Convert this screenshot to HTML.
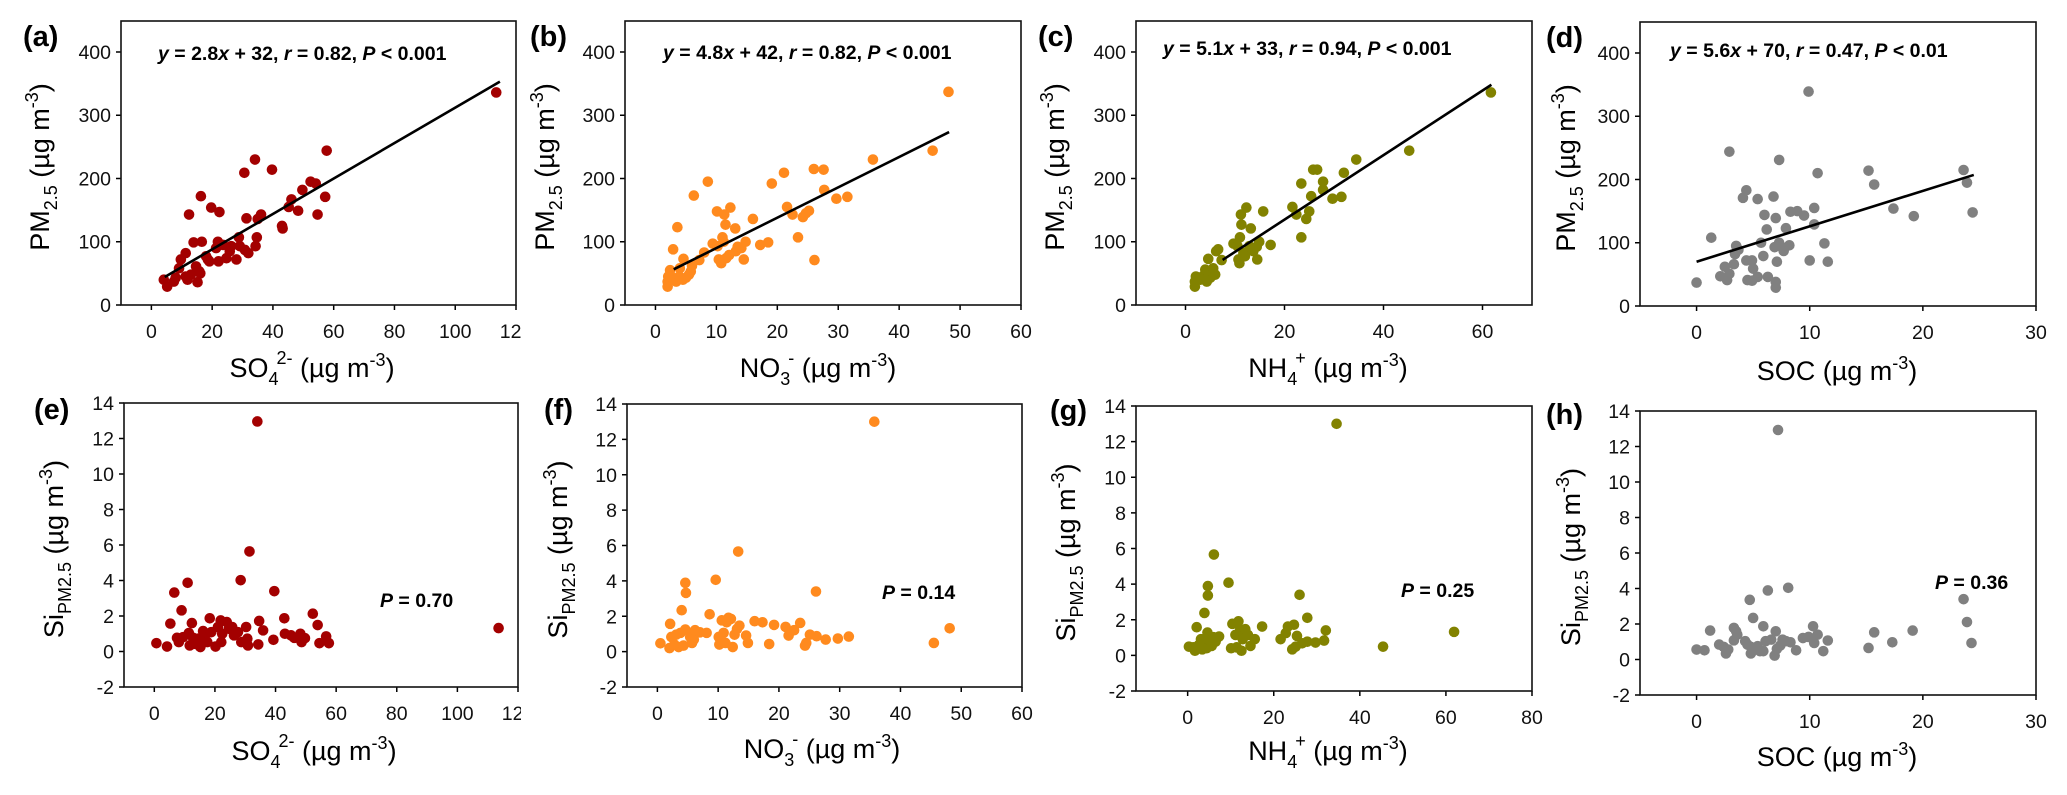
<!DOCTYPE html>
<html><head><meta charset="utf-8">
<style>
html,body{margin:0;padding:0;background:#fff;}
svg{display:block;font-family:"Liberation Sans",Arial,sans-serif;}
</style></head>
<body>
<svg id="fig" width="2067" height="795" viewBox="0 0 2067 795" xmlns="http://www.w3.org/2000/svg">
<defs><clipPath id="clipA"><rect x="0" y="0" width="521" height="795"/></clipPath></defs>
</svg>
<script>
// ---------- data ----------
const aX=[4.1,5.2,7.4,8,9.1,9.7,11.3,11.3,11.9,12.4,13,13.9,14.7,15.2,15.8,16.1,16.3,16.6,18,18.6,19.1,19.7,21.3,21.9,22.1,22.4,23.6,24.7,25.8,26.3,28,28.8,29.1,30.6,30.8,31.3,31.9,34.1,34.3,34.7,35,36.1,39.7,43,43.2,45.2,46.1,48.3,49.7,52.4,54.1,54.7,57.2,57.7,113.5];
const aY=[40,29,37,43,58,72,82,45,40,143,48,99,61,36,53,50,172,100,77,72,69,154,90,100,69,147,95,74,85,93,72,107,93,209,87,137,82,230,93,107,136,143,214,125,121,155,167,149,182,195,192,143,171,244,336];
const eX=[0.7,4.2,5.3,6.6,7.5,8.1,9,9.5,11,11.4,11.7,12.4,12.8,13.6,14.4,15.2,15.8,16.1,16.6,17.5,18.3,18.8,20.2,21,21.9,22.1,22.4,23.9,24.6,25.7,26.3,27.6,28.5,28.7,30.3,30.7,30.9,31.4,34,34.3,34.6,35.9,39.3,39.6,42.9,43.1,45.1,46.2,48.2,48.6,49.7,52.3,53.9,54.5,56.7,57.6,113.6];
const eY=[0.47,0.28,1.57,3.32,0.77,0.53,2.32,0.81,3.87,1.04,0.34,1.6,0.77,0.43,0.72,0.25,0.47,1.15,0.77,0.53,1.87,1.09,0.28,1.38,1.75,0.53,1.0,1.66,1.28,1.38,0.91,1.09,4.02,0.53,1.38,0.72,0.34,5.64,12.96,0.4,1.72,1.19,0.66,3.4,1.87,1.0,0.91,0.77,1.0,0.53,0.75,2.13,1.49,0.47,0.85,0.47,1.32];
const bX=[2,2,2.1,2.4,2.8,2.9,3.4,3.6,3.9,4,4.5,4.6,5,5.5,5.8,6,6.3,7.2,8,8.6,9.4,10.1,10.2,10.4,10.8,11,11.2,11.3,11.5,11.6,12.1,12.3,13.1,13.2,13.5,14.1,14.5,14.8,16,17.2,18.5,19.1,21.1,21.6,22.5,23.4,24.2,24.7,25.2,26,26.1,27.6,27.7,29.7,31.5,35.7,45.5,48.1];
const bY=[29,37,45,55,43,88,37,123,45,58,40,73,43,48,53,62,173,71,83,195,97,148,93,72,66,107,100,143,127,74,79,154,121,85,92,90,72,100,136,95,99,192,209,155,143,107,139,145,149,215,71,214,182,168,171,230,244,337];
const fX=[0.5,2,2.1,2.3,2.8,3.1,3.5,3.8,4,4.3,4.6,4.6,4.7,5.4,5.7,6,6.2,7,8.1,8.6,9.6,10.1,10.2,10.6,10.9,11.2,11.4,11.7,12.1,12.4,12.7,13.1,13.3,13.5,14.6,14.9,16,17.3,18.4,19.2,21.1,21.6,22.5,23.5,24.3,24.5,25.1,26.1,26.2,27.7,29.7,31.5,35.7,45.5,48.1];
const fY=[0.47,0.2,1.57,0.83,0.4,0.96,0.26,1.06,2.34,0.34,1.25,3.89,3.32,0.83,0.49,0.68,1.21,1.09,1.06,2.11,4.06,0.83,0.4,1.77,1.06,0.49,1.66,1.91,1.85,0.26,0.96,1.28,5.66,1.47,0.91,0.49,1.72,1.66,0.43,1.51,1.4,0.91,1.21,1.62,0.34,0.49,0.96,3.4,0.87,0.68,0.74,0.85,13,0.49,1.32];
const cX=[1.9,1.9,2.1,3,3.6,4,4.3,4.6,5,5.3,5.6,6,6.2,6.6,7.3,9.7,10.5,10.7,10.9,11,11.2,11.3,11.7,12,12.3,12.9,13.2,13.7,14.4,14.5,14.9,15.7,17.2,21.6,22.4,23.4,23.4,24.4,25,25.4,25.8,26.6,27.8,27.8,29.7,31.5,32,34.5,45.2,61.7];
const cY=[29,37,45,40,46,56,37,73,43,53,58,48,85,88,71,97,93,72,66,107,143,127,82,77,154,93,121,85,92,72,100,148,95,155,143,192,107,136,148,172,214,214,195,182,168,171,209,230,244,336];
const gX=[0.3,1.3,1.7,2.1,2.6,3.1,3.4,3.9,4,4.4,4.6,4.7,4.7,5.2,5.6,6,6.1,6.5,7.3,9.5,10.1,10.4,11.1,11.4,11.8,12.2,12.5,12.8,13.4,14,14.6,15.6,17.3,21.6,22.8,23.3,24.3,24.7,25.1,25.4,26,26.6,27.8,27.8,29.7,31.7,32.1,34.6,45.4,61.9];
const gY=[0.49,0.45,0.26,1.58,0.58,0.91,0.34,2.38,0.68,0.4,1.28,3.89,3.36,0.83,0.53,1.02,5.66,0.77,1.06,4.08,0.4,1.77,1.15,0.45,1.91,1.43,0.26,0.91,1.47,1.15,0.53,0.91,1.62,0.91,1.25,1.62,0.34,1.72,0.49,1.09,3.4,0.68,2.11,0.77,0.72,0.83,1.4,13,0.49,1.32];
const dX=[0,1.3,2.5,2.1,2.7,2.9,2.9,3.3,3.4,3.5,3.7,4.1,4.4,4.4,4.5,4.9,4.9,5,5.4,5.4,5.7,5.9,6,6.2,6.3,6.8,6.9,7,7,7,7.1,7.3,7.3,7.4,7.7,7.9,8.2,8.3,8.9,9.5,9.9,10,10.4,10.4,10.7,11.3,11.6,15.2,15.7,17.4,19.2,23.6,23.9,24.4];
const dY=[37,108,62,47,41,51,244,66,82,95,89,171,183,72,41,72,40,59,46,169,100,79,144,121,46,173,93,38,29,139,70,231,100,95,87,123,96,149,150,143,339,72,129,155,210,99,70,214,192,154,142,215,195,148];
const hX=[0,0.7,1.2,2,2.4,2.6,2.8,3.3,3.3,3.5,3.6,4.3,4.5,4.7,4.8,4.8,5,5.2,5.4,5.6,5.9,5.9,6.1,6.3,6.6,6.9,7,7.1,7.2,7.4,7.6,7.9,8.1,8.3,8.8,9.4,9.9,10.3,10.4,10.7,11.2,11.6,15.2,15.7,17.3,19.1,23.6,23.9,24.3];
const hY=[0.56,0.52,1.63,0.84,0.71,0.34,0.56,1.78,1.08,1.59,1.4,1.03,0.84,3.36,0.34,0.71,2.34,0.6,0.75,0.47,1.87,0.47,1.03,3.89,1.12,0.22,1.59,0.6,12.93,0.79,1.12,1.03,4.04,0.97,0.52,1.21,1.27,1.87,0.93,1.4,0.47,1.07,0.65,1.53,0.97,1.63,3.4,2.11,0.93];
// regression fits [slope, intercept] and drawn x-extent
const fitA=[2.8,32], fitARange=[4.4,114.7];
const fitB=[4.8,42], fitBRange=[3,48.2];
const fitC=[5.1,33], fitCRange=[7.5,61.8];
const fitD=[5.6,70], fitDRange=[0,24.5];
const pmTicks=[0,100,200,300,400];
const siTicks=[-2,0,2,4,6,8,10,12,14];
const xTicksSO4=[0,20,40,60,80,100,120];
const xTicksNO3=[0,10,20,30,40,50,60];
const xTicksNH4top=[0,20,40,60];
const xTicksNH4bot=[0,20,40,60,80];
const xTicksSOC=[0,10,20,30];
const pValues=["0.70","0.14","0.25","0.36"];

const NS="http://www.w3.org/2000/svg";
const svg=document.getElementById('fig');
function mk(tag,attrs,parent){const e=document.createElementNS(NS,tag);for(const k in attrs)e.setAttribute(k,attrs[k]);(parent||svg).appendChild(e);return e;}
function span(parent,txt,opts){const t=document.createElementNS(NS,'tspan');t.textContent=txt;if(opts){for(const k in opts)t.setAttribute(k,opts[k]);}parent.appendChild(t);return t;}

const SS='18';
const XT={
 so4:(t)=>{span(t,'SO');span(t,'4',{'font-size':SS,'dy':'8'});span(t,'2-',{'font-size':SS,'dy':'-21','dx':'-2'});span(t,' (µg m',{'dy':'13'});span(t,'-3',{'font-size':SS,'dy':'-11'});span(t,')',{'dy':'11'});},
 no3:(t)=>{span(t,'NO');span(t,'3',{'font-size':SS,'dy':'8'});span(t,'-',{'font-size':SS,'dy':'-21','dx':'-2'});span(t,' (µg m',{'dy':'13'});span(t,'-3',{'font-size':SS,'dy':'-11'});span(t,')',{'dy':'11'});},
 nh4:(t)=>{span(t,'NH');span(t,'4',{'font-size':SS,'dy':'8'});span(t,'+',{'font-size':SS,'dy':'-21','dx':'-2'});span(t,' (µg m',{'dy':'13'});span(t,'-3',{'font-size':SS,'dy':'-11'});span(t,')',{'dy':'11'});},
 soc:(t)=>{span(t,'SOC (µg m');span(t,'-3',{'font-size':SS,'dy':'-11'});span(t,')',{'dy':'11'});}
};
const YT={
 pm:(t)=>{span(t,'PM');span(t,'2.5',{'font-size':SS,'dy':'8'});span(t,' (µg m',{'dy':'-8'});span(t,'-3',{'font-size':SS,'dy':'-11'});span(t,')',{'dy':'11'});},
 si:(t)=>{span(t,'Si');span(t,'PM2.5',{'font-size':SS,'dy':'8'});span(t,' (µg m',{'dy':'-8'});span(t,'-3',{'font-size':SS,'dy':'-11'});span(t,')',{'dy':'11'});}
};

function panel(p){
  const g=mk('g',p.clip?{'clip-path':'url(#clipA)'}:{});
  
  
  const sx=v=>p.l+(v-p.xd[0])/(p.xd[1]-p.xd[0])*(p.r-p.l);
  const sy=v=>p.b-(v-p.yd[0])/(p.yd[1]-p.yd[0])*(p.b-p.t);
  p.yt.forEach(v=>{
    const y=sy(v);
    const tk=mk('line',{x1:p.l-5,x2:p.l,y1:y,y2:y,stroke:'#000','stroke-width':1.5},g);
    
    
    const tl=mk('text',{x:p.l-10,y:y+7,'text-anchor':'end','font-size':19.5,fill:'#111'},g);
    tl.textContent=v;
    
    
  });
  p.xt.forEach(v=>{
    const x=sx(v);
    const tk=mk('line',{x1:x,x2:x,y1:p.b,y2:p.b+5,stroke:'#000','stroke-width':1.5},g);
    
    
    const tl=mk('text',{x:x,y:p.b+33,'text-anchor':'middle','font-size':19.5,fill:'#111'},g);
    tl.textContent=v;
    
    
  });
  p.X.forEach((xv,i)=>{
    const c=mk('circle',{cx:sx(xv),cy:sy(p.Y[i]),r:5.3,fill:p.color},g);
    
    
  });
  if(p.fit){
    const x0=p.fitR[0],x1=p.fitR[1];
    const ln=mk('line',{x1:sx(x0),y1:sy(p.fit[0]*x0+p.fit[1]),x2:sx(x1),y2:sy(p.fit[0]*x1+p.fit[1]),stroke:'#000','stroke-width':2.6},g);
    
    
  }
  const box=mk('rect',{x:p.l,y:p.t,width:p.r-p.l,height:p.b-p.t,fill:'none',stroke:'#111','stroke-width':1.6},g);
  
  
  const lb=mk('text',{x:p.lx,y:p.ly,'font-size':29,'font-weight':'bold',fill:'#000'},g);
  lb.textContent='('+p.id+')';
  
  
  if(p.eq){
    const t=mk('text',{x:p.ex,y:p.ey,'font-size':19.5,'font-weight':'bold',fill:'#000'},g);
    
    
    span(t,'y',{'font-style':'italic'});span(t,' = '+p.eq[0]);span(t,'x',{'font-style':'italic'});span(t,' + '+p.eq[1]+', ');
    span(t,'r',{'font-style':'italic'});span(t,' = '+p.eq[2]+', ');span(t,'P',{'font-style':'italic'});span(t,' < '+p.eq[3]);
  }
  if(p.pv){
    const t=mk('text',{x:p.px,y:p.py,'font-size':19.5,'font-weight':'bold',fill:'#000'},g);
    
    
    span(t,'P',{'font-style':'italic'});span(t,' = '+p.pv);
  }
  const xt=mk('text',{x:p.xtx,y:p.xty,'text-anchor':'middle','font-size':27,fill:'#000'},g);
  
  
  XT[p.xk](xt);
  const yc=(p.t+p.b)/2+4;
  const yt=mk('text',{x:0,y:0,'text-anchor':'middle','font-size':27,fill:'#000',transform:'translate('+p.ytx+','+yc+') rotate(-90)'},g);
  
  
  YT[p.yk](yt);
}
const TOP=[0,449], BOT=[-2,14];
panel({id:'a',l:121,t:21,r:516,b:305,xd:[-10,120],yd:TOP,xt:xTicksSO4,yt:pmTicks,X:aX,Y:aY,color:'#a30000',fit:fitA,fitR:fitARange,lx:23,ly:46,eq:['2.8','32','0.82','0.001'],ex:158,ey:60,xk:'so4',yk:'pm',xtx:312,xty:377,ytx:49,clip:true});
panel({id:'b',l:625,t:21,r:1021,b:305,xd:[-5,60],yd:TOP,xt:xTicksNO3,yt:pmTicks,X:bX,Y:bY,color:'#ff8a1e',fit:fitB,fitR:fitBRange,lx:530,ly:46,eq:['4.8','42','0.82','0.001'],ex:663,ey:59,xk:'no3',yk:'pm',xtx:818,xty:377,ytx:554});
panel({id:'c',l:1136,t:21,r:1532,b:305,xd:[-10,70],yd:TOP,xt:xTicksNH4top,yt:pmTicks,X:cX,Y:cY,color:'#828200',fit:fitC,fitR:fitCRange,lx:1038,ly:46,eq:['5.1','33','0.94','0.001'],ex:1163,ey:55,xk:'nh4',yk:'pm',xtx:1328,xty:377,ytx:1064});
panel({id:'d',l:1640,t:22,r:2036,b:306,xd:[-5,30],yd:TOP,xt:xTicksSOC,yt:pmTicks,X:dX,Y:dY,color:'#808080',fit:fitD,fitR:fitDRange,lx:1546,ly:47,eq:['5.6','70','0.47','0.01'],ex:1670,ey:57,xk:'soc',yk:'pm',xtx:1837,xty:380,ytx:1575});
panel({id:'e',l:124,t:403,r:518,b:687,xd:[-10,120],yd:BOT,xt:xTicksSO4,yt:siTicks,X:eX,Y:eY,color:'#a30000',lx:34,ly:419,pv:pValues[0],px:380,py:607,xk:'so4',yk:'si',xtx:314,xty:760,ytx:63,clip:true});
panel({id:'f',l:627,t:404,r:1022,b:687,xd:[-5,60],yd:BOT,xt:xTicksNO3,yt:siTicks,X:fX,Y:fY,color:'#ff8a1e',lx:544,ly:419,pv:pValues[1],px:882,py:599,xk:'no3',yk:'si',xtx:822,xty:758,ytx:567});
panel({id:'g',l:1136,t:406,r:1532,b:691,xd:[-12,80],yd:BOT,xt:xTicksNH4bot,yt:siTicks,X:gX,Y:gY,color:'#828200',lx:1050,ly:420,pv:pValues[2],px:1401,py:597,xk:'nh4',yk:'si',xtx:1328,xty:760,ytx:1075});
panel({id:'h',l:1640,t:411,r:2036,b:695,xd:[-5,30],yd:BOT,xt:xTicksSOC,yt:siTicks,X:hX,Y:hY,color:'#808080',lx:1546,ly:424,pv:pValues[3],px:1935,py:589,xk:'soc',yk:'si',xtx:1837,xty:766,ytx:1580});
</script>
</body></html>
